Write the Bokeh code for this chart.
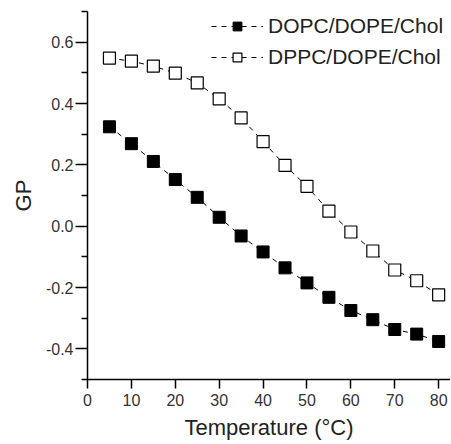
from bokeh.plotting import figure
from bokeh.models import Range1d, Legend, LegendItem, FixedTicker
from bokeh.embed import file_html
from bokeh.resources import INLINE

temps = [5, 10, 15, 20, 25, 30, 35, 40, 45, 50, 55, 60, 65, 70, 75, 80]
dopc = [0.324, 0.269, 0.211, 0.152, 0.094, 0.029, -0.032, -0.084, -0.136, -0.185,
        -0.232, -0.275, -0.305, -0.337, -0.352, -0.376]
dppc = [0.548, 0.538, 0.522, 0.499, 0.467, 0.415, 0.353, 0.276, 0.198, 0.130,
        0.049, -0.019, -0.081, -0.143, -0.178, -0.224]
x_ticks = [0, 10, 20, 30, 40, 50, 60, 70, 80]
y_ticks = [-0.4, -0.2, 0.0, 0.2, 0.4, 0.6]
y_minor = [-0.5, -0.3, -0.1, 0.1, 0.3, 0.5, 0.7]

p = figure(width=450, height=442, output_backend="svg", toolbar_location=None,
           x_range=Range1d(0, 82.7), y_range=Range1d(-0.5, 0.7),
           min_border_left=87, min_border_right=0, min_border_top=11, min_border_bottom=60)
p.outline_line_color = None
p.grid.visible = False
p.background_fill_color = "white"

l1 = p.line(temps, dopc, line_color="black", line_dash="5 5", line_width=1)
m1 = p.scatter(temps, dopc, marker="square", size=12, fill_color="black", line_color="black")
l2 = p.line(temps, dppc, line_color="black", line_dash="5 5", line_width=1)
m2 = p.scatter(temps, dppc, marker="square", size=12, fill_color="white", line_color="black", line_width=1.2)

legend = Legend(items=[LegendItem(label="DOPC/DOPE/Chol", renderers=[l1, m1]),
                       LegendItem(label="DPPC/DOPE/Chol", renderers=[l2, m2])],
                location=(124, 310))
legend.border_line_color = None
legend.background_fill_alpha = 0
legend.label_text_font = "Liberation Sans"
legend.label_text_font_size = "21px"
legend.label_text_color = "#222222"
legend.glyph_width = 52
legend.glyph_height = 22
legend.label_height = 22
legend.label_standoff = 5
legend.spacing = 7
legend.padding = 2
legend.margin = 0
p.add_layout(legend)

for ax in (p.xaxis[0], p.yaxis[0]):
    ax.axis_line_width = 1.5
    ax.major_tick_line_width = 1.5
    ax.minor_tick_line_width = 1.5
    ax.major_tick_in = 0
    ax.major_label_text_font = "Liberation Sans"
    ax.major_label_text_font_size = "16px"
    ax.major_label_text_color = "#333333"
    ax.axis_label_text_font = "Liberation Sans"
    ax.axis_label_text_font_size = "22px"
    ax.axis_label_text_font_style = "normal"
    ax.axis_label_text_color = "#222222"

p.xaxis.ticker = FixedTicker(ticks=x_ticks)
p.xaxis.minor_tick_line_color = None
p.xaxis.major_tick_out = 9
p.xaxis.major_label_standoff = 5
p.xaxis.axis_label_standoff = 6
p.yaxis.ticker = FixedTicker(ticks=y_ticks, minor_ticks=y_minor)
p.yaxis.major_tick_out = 12
p.yaxis.minor_tick_out = 6
p.yaxis.minor_tick_in = 0
p.yaxis.major_label_standoff = 2
p.yaxis.axis_label_standoff = 7
p.yaxis.major_label_overrides = {v: f"{v:.1f}" for v in y_ticks}
p.xaxis.axis_label = "Temperature (°C)"
p.yaxis.axis_label = "GP"

open("out.html", "w").write(file_html(p, INLINE))
